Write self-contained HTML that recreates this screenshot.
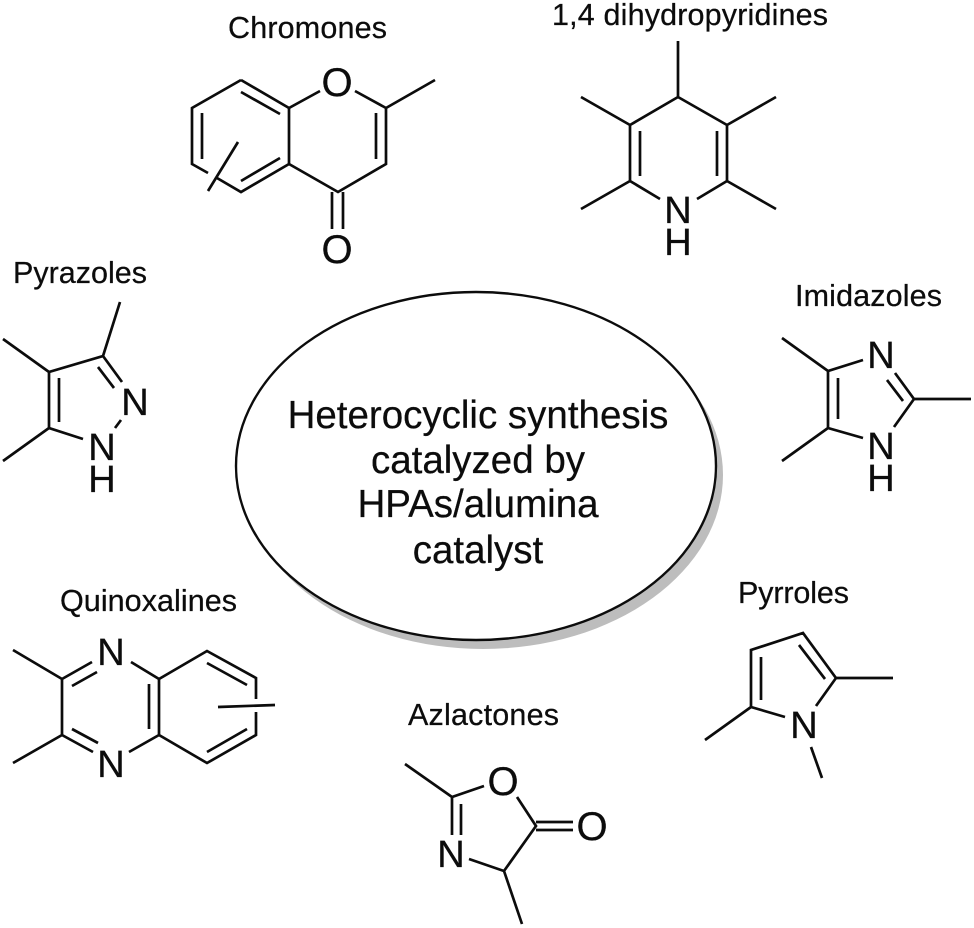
<!DOCTYPE html>
<html>
<head>
<meta charset="utf-8">
<style>
html,body{margin:0;padding:0;background:#fff}
svg{display:block}
text{font-family:"Liberation Sans",Arial,sans-serif;fill:#0c0c0c;stroke:#0c0c0c;stroke-width:.25}
.l{font-size:30.5px}
.a{font-size:38px;text-anchor:middle}
.c{font-size:38.5px;text-anchor:middle}
path{fill:none;stroke:#0c0c0c;stroke-width:2.7;stroke-linecap:butt;stroke-linejoin:miter}
</style>
</head>
<body>
<svg width="974" height="928" viewBox="0 0 974 928" xmlns="http://www.w3.org/2000/svg">
<rect width="974" height="928" fill="#fff"/>

<!-- Central ellipse -->
<ellipse cx="483" cy="475" rx="240" ry="174" fill="#bdbdbd"/>
<ellipse cx="476" cy="466" rx="240" ry="174" fill="#fff" stroke="#0c0c0c" stroke-width="2.4"/>
<text class="c" x="478" y="428">Heterocyclic synthesis</text>
<text class="c" x="478" y="473">catalyzed by</text>
<text class="c" x="478" y="517">HPAs/alumina</text>
<text class="c" x="478" y="563">catalyst</text>

<!-- Chromones -->
<text class="l" x="228" y="38" textLength="159">Chromones</text>
<path d="M241 80L289 108L289 164L241 192L217 178M208 173L192 164L192 108L241 80"/>
<path d="M241 92L280 114M202 113L202 159M241 181L280 158"/>
<path d="M289 108L320 91M355 91L386 108L435 80M386 108L386 164L338 192L289 164"/>
<path d="M376 113L376 159M332 192L332 229M343 192L343 229M238 142L208 191"/>
<text class="a" x="337" y="96" style="font-size:40px">O</text>
<text class="a" x="337" y="263" style="font-size:40px">O</text>

<!-- 1,4 dihydropyridines -->
<text class="l" x="552" y="25" textLength="276">1,4 dihydropyridines</text>
<path d="M678 41L678 97M581 97L630 125L678 97L727 125L776 97M630 125L630 181L660 199M727 125L727 181L697 199M630 181L581 209M727 181L776 209"/>
<path d="M640 131L640 176M717 131L717 176"/>
<text class="a" x="678" y="223">N</text>
<text class="a" x="678" y="255">H</text>

<!-- Pyrazoles -->
<text class="l" x="13" y="283" textLength="134">Pyrazoles</text>
<path d="M120 302L103 356L49 372L49 428L83 439M3 339L49 372M3 461L49 428M103 356L122 382M98 367L114 388M59 378L59 422M115 428L121 420"/>
<text class="a" x="135" y="415">N</text>
<text class="a" x="102" y="460">N</text>
<text class="a" x="102" y="492">H</text>

<!-- Imidazoles -->
<text class="l" x="795" y="306" textLength="147">Imidazoles</text>
<path d="M782 338L828 371L863 360M828 371L828 428L863 438M782 461L828 428M838 378L838 419M895 373L914 399L971 399M887 380L903 401M914 399L894 427"/>
<text class="a" x="881" y="368">N</text>
<text class="a" x="881" y="459">N</text>
<text class="a" x="881" y="491">H</text>

<!-- Quinoxalines -->
<text class="l" x="60" y="611" textLength="177">Quinoxalines</text>
<path d="M13 650L62 679L92 662M72 686L97 672M62 679L62 735L93 752M72 729L98 743M13 763L62 735"/>
<path d="M131 662L159 679L159 735L129 752M149 684L149 729M159 679L207 651L256 678L256 699M207 663L247 685M256 712L256 735L207 763L159 735M207 752L247 729M218 707L275 705"/>
<text class="a" x="111" y="665">N</text>
<text class="a" x="111" y="777">N</text>

<!-- Azlactones -->
<text class="l" x="408" y="725" textLength="151">Azlactones</text>
<path d="M405 764L452 797L484 786M452 797L452 835M461 804L461 835M469 859L504 871L522 924M504 871L536 826L517 797M536 822L573 822M536 830L573 830"/>
<text class="a" x="503" y="795" style="font-size:40px">O</text>
<text class="a" x="592" y="840" style="font-size:40px">O</text>
<text class="a" x="451" y="867">N</text>

<!-- Pyrroles -->
<text class="l" x="738" y="603" textLength="111">Pyrroles</text>
<path d="M705 740L751 707L751 650L803 633L836 678L893 678M761 657L761 700M799 645L825 679M751 707L785 717M836 678L816 706M811 747L822 778"/>
<text class="a" x="804" y="738">N</text>
</svg>
</body>
</html>
